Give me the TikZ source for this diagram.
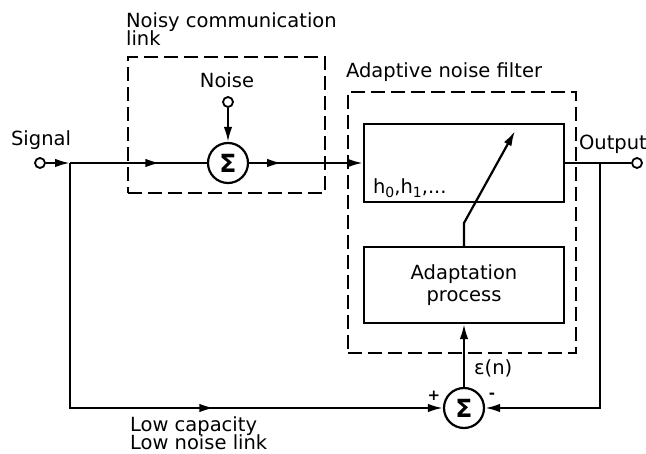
\documentclass[tikz,border=0pt]{standalone}
\usepackage{fontspec}
\setmainfont{DejaVu Sans}
\usetikzlibrary{arrows.meta,decorations.markings}
\begin{document}
\begin{tikzpicture}[x=1pt,y=-1pt,
  line width=2.2pt,
  tip/.style={-{Latex[length=15pt,width=8.5pt]}},
  midarrow/.style={postaction={decorate},decoration={markings,mark=at position #1 with {\arrow{Latex[length=15pt,width=8.5pt]}}}},
  dbox/.style={draw,dash pattern=on 14pt off 6pt,line width=2.2pt,inner sep=0pt},
  blk/.style={draw,line width=2.2pt,minimum width=200pt,inner sep=0pt},
  sumnode/.style={draw,circle,minimum size=40pt,inner sep=0pt,font=\fontsize{25}{25}\selectfont\bfseries},
  term/.style={draw,circle,minimum size=10pt,inner sep=0pt,fill=white,line width=1.8pt},
  lbl/.style={font=\fontsize{19.5}{22}\selectfont,inner sep=0pt}
]
\useasboundingbox (0,0) rectangle (646,454);
\fill[white] (0,0) rectangle (646,454);

% dashed enclosures
\node[dbox,minimum width=197pt,minimum height=136pt] (box1) at (226.5,125) {};
\node[dbox,minimum width=228pt,minimum height=261pt] (box2) at (462,222.5) {};

% labels
\node[lbl,anchor=base west] (ncl1) at (125,28) {Noisy communication};
\node[lbl,anchor=base west] (ncl2) at (125,46) {link};
\node[lbl,anchor=base west] (anf) at (345,78) {Adaptive noise filter};
\node[lbl,anchor=base west] (siglbl) at (10,146) {Signal};
\node[lbl,anchor=base west] (outlbl) at (578,150) {Output};
\node[lbl] (noisel) at (227,80) {Noise};

% terminals and sums
\node[term] (sig) at (40,163) {};
\coordinate (j1) at (70,163);
\node[term] (noise) at (228,102) {};
\node[sumnode] (s1) at (228,163) {Σ};
\node[term] (out) at (637,163) {};
\coordinate (j2) at (600,163);
\node[sumnode] (s2) at (464,408) {Σ};

% blocks
\node[blk,minimum height=78pt] (filt) at (464,163) {};
\node[lbl,anchor=base west] (hh) at (372,194) {h\raisebox{-0.35ex}{\fontsize{14}{14}\selectfont 0},h\raisebox{-0.35ex}{\fontsize{14}{14}\selectfont 1},...};
\node[blk,lbl,minimum height=76pt,align=center,draw,line width=2.2pt,minimum width=200pt] (adapt) at (464,285) {Adaptation\\process};

% connectors
\draw[tip] (sig) -- (j1);
\draw[midarrow=0.66] (j1) -- (s1);
\draw[tip] (noise) -- (s1);
\draw[tip,midarrow=0.29] (s1) -- (filt.west);
\draw (filt.east) -- (out);
\coordinate (bend) at (464,223);
\coordinate (dtip) at (515,131);
\draw[tip] (adapt.north) -- (bend) -- (dtip);
\draw[tip] (s2) -- (adapt.south);
\draw[tip,midarrow=0.63] (j1) |- (s2.west);
\draw[tip] (j2) |- (s2.east);

% sum signs and error label
\node[font=\fontsize{15}{15}\selectfont\bfseries,inner sep=0pt] (plus) at (434,396) {+};
\node[font=\fontsize{15}{15}\selectfont\bfseries,inner sep=0pt] (minus) at (492,396) {-};
\node[lbl,anchor=west] (eps) at (473,368) {ε(n)};

\node[lbl,anchor=base west] (lc1) at (129,432) {Low capacity};
\node[lbl,anchor=base west] (lc2) at (129,450) {Low noise link};
\end{tikzpicture}
\end{document}
